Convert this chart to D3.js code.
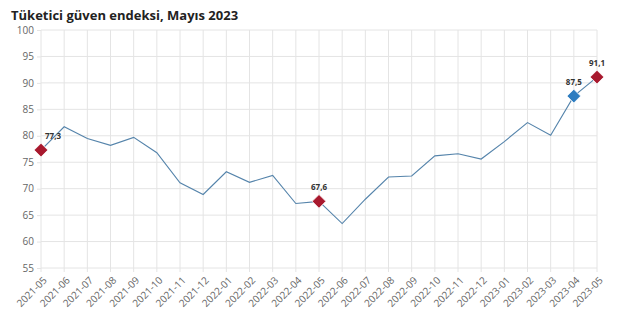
<!DOCTYPE html>
<html><head><meta charset="utf-8">
<script src="https://cdn.jsdelivr.net/npm/d3@7"></script>
<style>body{margin:0;background:#fff;font-family:"Open Sans",sans-serif;}</style>
</head><body><svg id="c" width="617" height="328"></svg>
<script>
const months = ["2021-05","2021-06","2021-07","2021-08","2021-09","2021-10","2021-11","2021-12","2022-01","2022-02","2022-03","2022-04","2022-05","2022-06","2022-07","2022-08","2022-09","2022-10","2022-11","2022-12","2023-01","2023-02","2023-03","2023-04","2023-05"];
const values = [77.3,81.7,79.5,78.2,79.7,76.8,71.1,68.9,73.2,71.2,72.5,67.2,67.6,63.4,68.0,72.2,72.4,76.2,76.6,75.6,78.9,82.5,80.1,87.5,91.1];
const yTicks = [55,60,65,70,75,80,85,90,95,100];
const highlighted = [
  {month:"2021-05", color:"#a8192e", label:"77,3"},
  {month:"2022-05", color:"#a8192e", label:"67,6"},
  {month:"2023-04", color:"#2e7dc0", label:"87,5"},
  {month:"2023-05", color:"#a8192e", label:"91,1"}
];
const title = "Tüketici güven endeksi, Mayıs 2023";

const svg = d3.select("#c");
const m = {l:41, r:20, t:30, b:60};
const W = 617, H = 328;
const x = d3.scalePoint().domain(months).range([m.l, W - m.r]);
const y = d3.scaleLinear().domain([55,100]).range([268, 30]);

svg.append("text").attr("x",11).attr("y",20).attr("font-size",13).attr("font-weight",700)
  .attr("fill","#222").text(title);

// grid
svg.append("g").selectAll("line").data(yTicks).join("line")
  .attr("x1",m.l).attr("x2",W-m.r).attr("y1",d=>y(d)).attr("y2",d=>y(d))
  .attr("stroke","#e4e4e4").attr("stroke-width",1);
svg.append("g").selectAll("line").data(months).join("line")
  .attr("x1",d=>x(d)).attr("x2",d=>x(d)).attr("y1",y(100)).attr("y2",y(55)+4)
  .attr("stroke","#e4e4e4").attr("stroke-width",1);

// y axis labels
const ya = svg.append("g").attr("transform",`translate(${m.l},0)`)
  .call(d3.axisLeft(y).tickValues(yTicks).tickSize(4).tickPadding(3));
ya.select(".domain").remove();
ya.selectAll(".tick line").attr("stroke","#e4e4e4");
ya.selectAll("text").attr("font-size",10).attr("fill","#666").attr("font-family","Open Sans, sans-serif");

// x axis labels
const xa = svg.append("g").attr("transform",`translate(0,${y(55)})`)
  .call(d3.axisBottom(x).tickSize(0).tickPadding(0));
xa.select(".domain").remove();
xa.selectAll("text").attr("font-size",10).attr("fill","#666").attr("font-family","Open Sans, sans-serif")
  .attr("text-anchor","end").attr("dy",0)
  .attr("transform","translate(6,13) rotate(-45)");

// line
const data = months.map((mo,i)=>({month:mo, value:values[i]}));
svg.append("path").datum(data)
  .attr("fill","none").attr("stroke","#5584ab").attr("stroke-width",1.1)
  .attr("d", d3.line().x(d=>x(d.month)).y(d=>y(d.value)));

// markers
const hl = highlighted.map(h=>({...h, value: values[months.indexOf(h.month)]}));
svg.append("g").selectAll("path").data(hl).join("path")
  .attr("transform",d=>`translate(${x(d.month)},${y(d.value)})`)
  .attr("d", d3.symbol(d3.symbolDiamond2, 120))
  .attr("fill",d=>d.color).attr("stroke","#fff").attr("stroke-width",0.8);

svg.append("g").selectAll("text").data(hl).join("text")
  .attr("x",(d,i)=> i===0 ? x(d.month)+12 : x(d.month))
  .attr("y",(d,i)=> i===0 ? y(d.value)-11 : y(d.value)-11)
  .attr("text-anchor","middle")
  .attr("font-size",8).attr("font-weight",700).attr("fill","#333")
  .text(d=>d.label);
</script></body></html>
